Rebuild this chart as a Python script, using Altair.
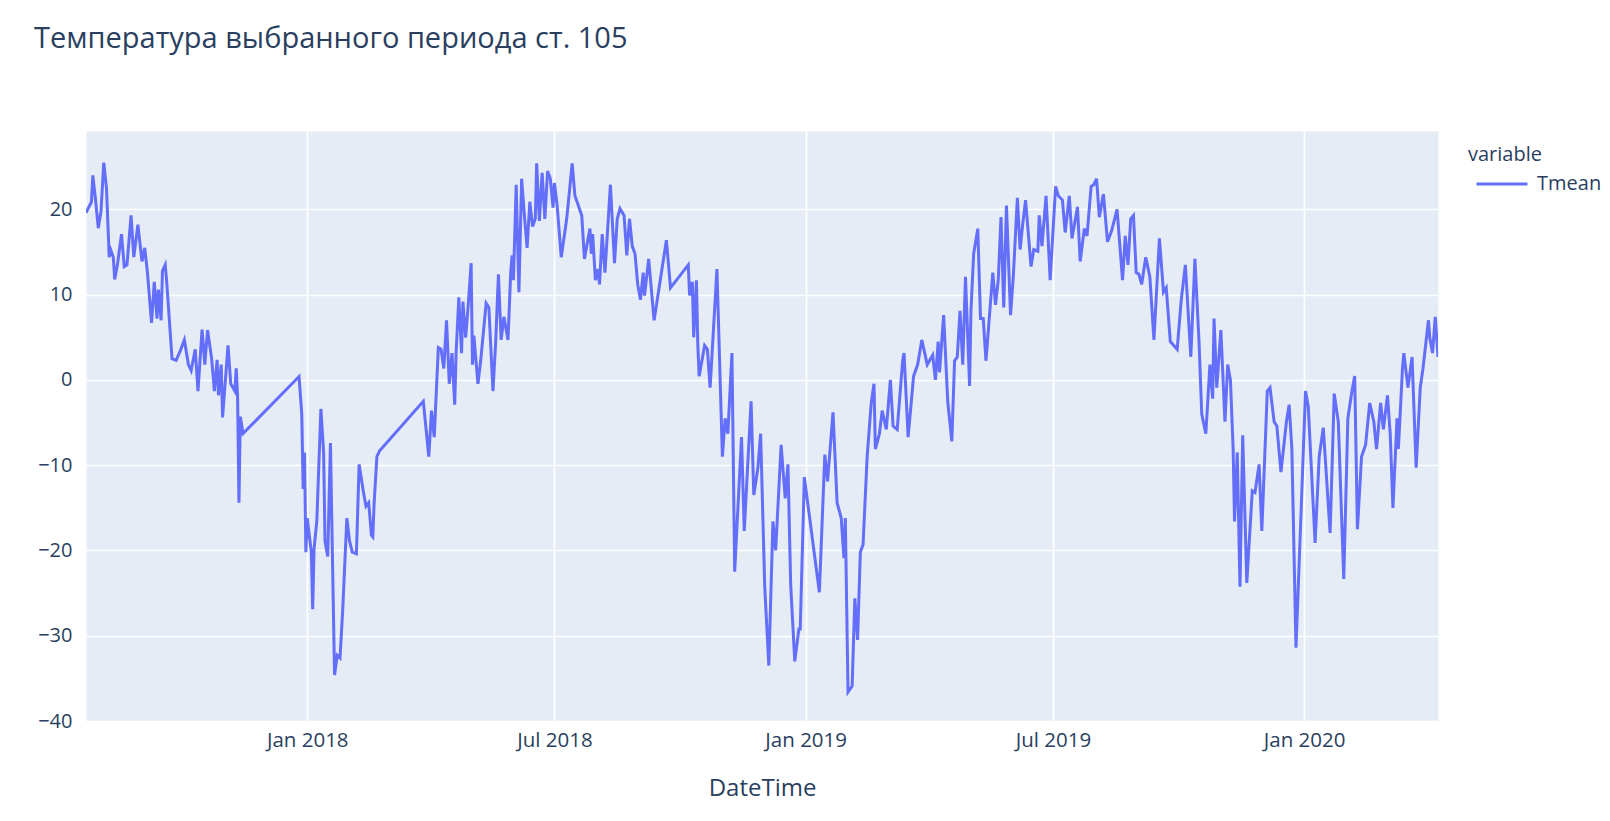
import altair as alt
import pandas as pd

# Dates are stored as day offsets from 2018-01-01 (negative = 2017).
days_2017 = [-162, -158, -157, -155, -153, -151, -149, -147, -145, -144, -142, -141, -139, -136,
             -134, -132, -129, -127, -124, -121, -119, -117, -114, -112, -110, -109, -107, -106,
             -104, -103, -99, -96, -93, -90, -87, -85, -82, -80, -77, -75, -73, -70, -68, -66,
             -65, -63, -62, -58, -56, -53, -52, -51, -50, -49, -47]
temp_2017 = [19.6, 20.9, 24.0, 21.1, 17.8, 19.8, 25.5, 22.5, 14.4, 15.3, 14.4, 11.8, 13.5, 17.1,
             13.3, 13.5, 19.3, 14.4, 18.2, 13.9, 15.5, 12.6, 6.7, 11.5, 7.2, 10.6, 7.0, 12.8,
             13.5, 11.7, 2.5, 2.3, 3.4, 4.7, 1.8, 1.1, 3.6, -1.3, 5.9, 1.8, 5.85, 2.5, -1.3, 2.35,
             -1.8, 1.8, -4.4, 4.05, -0.45, -1.3, 1.35, -1.8, -14.4, -4.3, -6.3]

days_winter18 = [-6, -4, -3, -2, -1, 0, 3, 4, 5, 7, 10, 12, 13, 15, 17, 18, 20, 22, 24, 26, 29,
                 31, 33, 36, 38, 41, 43, 45, 47, 48, 49, 51, 53]
temp_winter18 = [0.4, -4.0, -12.8, -8.5, -20.2, -16.2, -20.2, -26.9, -19.8, -16.6, -3.4, -8.5,
                 -18.9, -20.7, -7.4, -16.6, -34.6, -32.3, -32.6, -26.9, -16.2, -18.9, -20.2,
                 -20.4, -9.9, -13.0, -14.8, -14.4, -18.2, -18.4, -14.4, -9.0, -8.3]

days_2018 = [85, 89, 91, 93, 96, 98, 100, 102, 104, 106, 108, 109, 111, 113, 114, 116, 118, 120,
             121, 122, 125, 127, 131, 133, 136, 138, 140, 142, 144, 147, 149, 150, 151, 153, 155,
             157, 159, 161, 163, 165, 167, 168, 170, 172, 174, 176, 178, 180, 181, 183, 186, 190,
             194, 196, 198, 201, 203, 205, 207, 208, 209, 211, 213, 214, 216, 218, 222, 225, 227,
             229, 232, 234, 236, 238, 240, 242, 244, 246, 247, 250, 254, 263, 266, 279, 280, 282,
             283, 285, 286, 287]
temp_2018 = [-2.5, -9.0, -3.6, -6.7, 3.8, 3.6, 1.35, 7.0, -0.45, 3.15, -2.9, 3.15, 9.7, 3.15,
             9.2, 4.95, 9.0, 13.7, 1.8, 5.2, -0.45, 2.25, 9.0, 8.5, -1.3, 4.5, 12.4, 4.7, 7.4,
             4.7, 12.6, 14.6, 11.7, 22.9, 10.3, 23.6, 19.3, 15.5, 20.9, 18.0, 18.9, 25.4, 18.65,
             24.3, 18.9, 24.5, 23.6, 20.2, 23.1, 20.45, 14.4, 18.9, 25.4, 21.6, 20.7, 19.3, 14.2,
             16.0, 17.75, 14.8, 17.1, 11.7, 13.0, 11.2, 17.1, 12.6, 22.9, 13.7, 18.9, 20.1, 19.3,
             14.6, 18.9, 15.7, 14.8, 11.2, 9.4, 12.6, 9.9, 14.2, 7.0, 16.4, 10.8, 13.5, 9.9, 11.5,
             5.0, 11.7, 4.05, 0.45]

days_winter19 = [291, 293, 295, 300, 304, 306, 308, 311, 313, 318, 320, 325, 327, 330, 332, 335,
                 338, 341, 343, 347, 350, 352, 354, 357, 360, 361, 364, 375, 379, 381, 385, 388,
                 391, 393, 394, 396, 399, 401, 403, 405, 407, 410, 413, 415, 416, 419, 421, 424,
                 427, 429, 432, 436, 437, 440, 444, 447, 450, 454, 458, 460, 462, 463, 466, 469,
                 472, 474, 476, 478, 480, 482, 485, 486, 488, 491, 493, 495, 497]
temp_winter19 = [4.05, 3.6, -0.9, 13.0, -9.0, -4.5, -6.3, 3.15, -22.5, -6.7, -17.7, -2.5, -13.5,
                 -10.3, -6.3, -24.25, -33.5, -16.6, -20.0, -7.6, -13.9, -9.9, -24.0, -33.0, -29.2,
                 -29.2, -11.4, -24.9, -8.75, -11.9, -3.8, -14.4, -16.2, -20.9, -16.2, -36.6, -35.9,
                 -25.6, -30.5, -20.2, -19.3, -9.0, -2.7, -0.45, -8.1, -6.3, -3.6, -5.8, 0.0, -5.4,
                 -5.8, 2.25, 3.15, -6.7, 0.45, 1.8, 4.7, 1.8, 2.9, 0.0, 4.5, 0.9, 7.6, -2.5, -7.2,
                 2.25, 2.7, 8.1, 1.8, 12.1, -0.7, 8.1, 14.8, 17.75, 7.2, 7.2, 2.25]

days_2019 = [502, 504, 506, 508, 510, 512, 515, 517, 520, 522, 524, 526, 530, 532, 535, 536, 538,
             541, 544, 548, 550, 553, 555, 558, 560, 564, 566, 569, 571, 574, 576, 578, 580, 583,
             586, 589, 593, 597, 599, 601, 603, 605, 607, 609, 611, 614, 617, 620, 624, 627, 629,
             632, 637, 640, 643, 647, 650, 653, 655, 658, 661, 663, 664, 666, 669, 672, 674, 676]
temp_2019 = [12.6, 8.8, 11.7, 19.1, 8.5, 20.45, 7.6, 12.1, 21.35, 15.3, 18.4, 21.1, 13.3, 15.3,
             15.1, 19.3, 15.7, 21.6, 11.7, 22.7, 21.6, 21.1, 17.3, 21.6, 16.6, 20.3, 13.9, 17.75,
             16.9, 22.7, 22.9, 23.6, 19.1, 21.8, 16.2, 17.5, 20.0, 11.7, 16.9, 13.5, 18.9, 19.3,
             12.6, 12.4, 11.2, 14.4, 12.1, 4.7, 16.6, 10.3, 10.8, 4.5, 3.6, 9.4, 13.5, 2.7, 14.2,
             4.5, -4.0, -6.3, 1.8, -2.2, 7.2, -0.9, 5.85, -4.9, 1.8, 0.0]

days_winter20 = [678, 679, 681, 683, 685, 688, 692, 694, 697, 699, 703, 705, 708, 710, 713, 717,
                 719, 721, 724, 728, 731, 733, 738, 741, 744, 749, 752, 755, 759, 762, 765, 767,
                 769, 772, 775, 778, 781, 783, 786, 788, 791, 793, 795, 798, 799, 802, 803, 806,
                 809, 812, 815, 817, 821, 822, 824, 826, 828]
temp_winter20 = [-8.1, -16.6, -8.5, -24.25, -6.5, -23.8, -13.0, -13.2, -9.9, -17.7, -1.3, -0.9,
                 -4.9, -5.4, -10.8, -4.9, -2.9, -8.1, -31.4, -14.4, -1.3, -3.1, -19.1, -9.0, -5.6,
                 -17.95, -1.6, -4.9, -23.35, -4.5, -1.3, 0.45, -17.5, -9.0, -7.6, -2.7, -4.9, -8.1,
                 -2.7, -5.8, -1.8, -6.3, -15.0, -4.5, -8.1, 1.35, 3.15, -0.9, 2.7, -10.3, -0.9,
                 1.35, 7.0, 4.95, 3.15, 7.4, 2.7]

y_ticks = [-40, -30, -20, -10, 0, 10, 20]
x_ticks = [(2018, 1), (2018, 7), (2019, 1), (2019, 7), (2020, 1)]

all_days = days_2017 + days_winter18 + days_2018 + days_winter19 + days_2019 + days_winter20
all_temp = temp_2017 + temp_winter18 + temp_2018 + temp_winter19 + temp_2019 + temp_winter20
dates = pd.Timestamp("2018-01-01") + pd.to_timedelta(all_days, unit="D")
df = pd.DataFrame({"DateTime": dates, "value": all_temp, "variable": "Tmean"})

TXT = "#2a3f5f"
FONT = "Open Sans"

chart = alt.Chart(df).mark_line(strokeWidth=3, clip=True).encode(
    x=alt.X(
        "DateTime:T",
        title="DateTime",
        scale=alt.Scale(nice=False),
        axis=alt.Axis(
            values=[alt.DateTime(year=y, month=m, date=1) for y, m in x_ticks],
            format="%b %Y", labelAngle=0, domain=False, ticks=False,
            gridColor="white", gridWidth=1.7, labelPadding=9,
            labelFontSize=20.5, labelColor=TXT, labelFont=FONT,
            titleFontSize=24, titleFontWeight="normal", titleColor=TXT, titleFont=FONT,
            titlePadding=26,
        ),
    ),
    y=alt.Y(
        "value:Q",
        title=None,
        scale=alt.Scale(domain=[-40, 29.2], nice=False, zero=False),
        axis=alt.Axis(
            values=y_ticks, domain=False, ticks=False,
            gridColor="white", gridWidth=1.7, labelPadding=14,
            labelFontSize=20, labelColor=TXT, labelFont=FONT,
        ),
    ),
    color=alt.Color(
        "variable:N",
        scale=alt.Scale(range=["#636EFA"]),
        legend=alt.Legend(
            title="variable", orient="none", legendX=1382, legendY=14,
            symbolType="stroke", symbolSize=2601, symbolStrokeWidth=3, symbolOffset=7,
            labelFontSize=20, labelColor=TXT, labelFont=FONT, labelOffset=8,
            titleFontSize=20, titleFontWeight="normal", titleColor=TXT, titleFont=FONT,
            titlePadding=-8, padding=0,
        ),
    ),
).properties(
    width=1352,
    height=590,
    title=alt.TitleParams(
        "Температура выбранного периода ст. 105",
        anchor="start", frame="group", dx=-52, offset=54, baseline="alphabetic",
        fontSize=29, fontWeight="normal", color=TXT, font=FONT,
    ),
    padding={"left": 78, "top": 123, "right": 164, "bottom": 92},
    autosize=alt.AutoSizeParams(type="none"),
).configure(
    background="white",
    view=alt.ViewConfig(fill="#E5ECF6", stroke="transparent"),
)

chart.save("out.html", embed_options={"renderer": "svg", "actions": False})
